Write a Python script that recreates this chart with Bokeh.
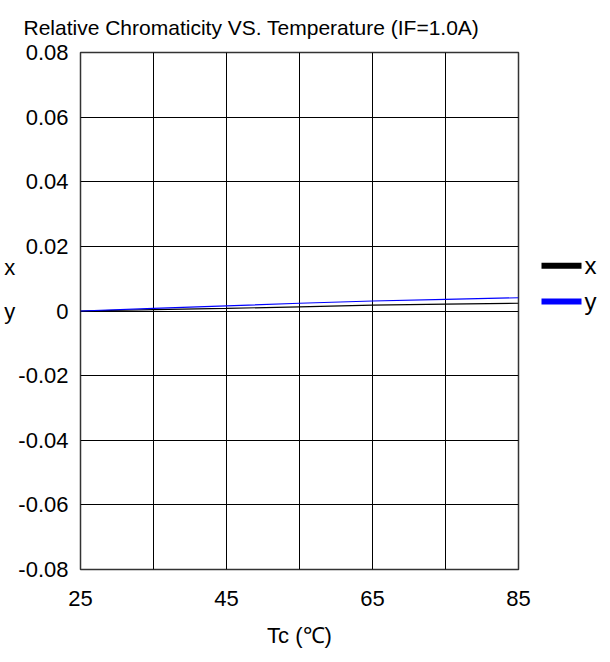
import math
from bokeh.plotting import figure
from bokeh.layouts import row
from bokeh.models import (FixedTicker, CustomJSTickFormatter, Range1d)
from bokeh.core.properties import value
from bokeh.embed import file_html
from bokeh.resources import INLINE

temps = [25, 35, 45, 55, 65, 75, 85]
dx = [0.0, 0.0004, 0.0008, 0.0013, 0.0018, 0.0021, 0.0024]
dy = [0.0, 0.0008, 0.0016, 0.0024, 0.0031, 0.0036, 0.0041]
x_tick_labels = [25, 45, 65, 85]
y_ticks = [-0.08, -0.06, -0.04, -0.02, 0, 0.02, 0.04, 0.06, 0.08]
grid_x = [25, 35, 45, 55, 65, 75, 85]
series_names = ["x", "y"]
series_colors = ["black", "#0000ff"]

FONT = "Liberation Sans"
H = 650

p = figure(width=540, height=H, output_backend="svg", toolbar_location=None,
           x_range=Range1d(25, 85), y_range=Range1d(-0.08, 0.08),
           min_border_left=80, min_border_right=22, min_border_top=52, min_border_bottom=80)
p.title.text = "Relative Chromaticity VS. Temperature (IF=1.0A)"
p.title.align = "left"
p.title.offset = -57
p.title.text_font = FONT
p.title.text_font_size = "21px"
p.title.text_font_style = "normal"
p.title.text_color = "black"
p.title.standoff = 27

p.outline_line_color = "#333333"
p.outline_line_width = 1.5

for ax in (p.xaxis[0], p.yaxis[0]):
    ax.axis_line_color = None
    ax.major_tick_line_color = None
    ax.minor_tick_line_color = None
    ax.major_label_text_font = FONT
    ax.major_label_text_font_size = "22px"
    ax.major_label_text_color = "black"

p.xaxis.ticker = FixedTicker(ticks=x_tick_labels)
p.xaxis.major_label_standoff = 15
p.xaxis.axis_label = "Tc (℃)"
p.xaxis.axis_label_text_font = FONT
p.xaxis.axis_label_text_font_size = "22px"
p.xaxis.axis_label_text_font_style = "normal"
p.xaxis.axis_label_text_color = "black"
p.xaxis.axis_label_standoff = 14

p.yaxis.ticker = FixedTicker(ticks=y_ticks)
p.yaxis.formatter = CustomJSTickFormatter(code="return Math.abs(tick) < 1e-9 ? '0' : tick.toFixed(2);")
p.yaxis.major_label_standoff = 6
p.yaxis.axis_label = series_names[0] + "\n" + series_names[1] + "\n\u00a0"
p.yaxis.axis_label_orientation = "horizontal"
p.yaxis.axis_label_text_font = FONT
p.yaxis.axis_label_text_font_size = "22px"
p.yaxis.axis_label_text_font_style = "normal"
p.yaxis.axis_label_text_color = "black"
p.yaxis.axis_label_text_line_height = 1.75
p.yaxis.axis_label_standoff = 0

p.xgrid.ticker = FixedTicker(ticks=grid_x)
p.xgrid.grid_line_color = "black"
p.xgrid.grid_line_width = 1
p.ygrid.grid_line_color = "black"
p.ygrid.grid_line_width = 1

p.line(temps, dx, line_color=series_colors[0], line_width=1.2)
p.line(temps, dy, line_color=series_colors[1], line_width=1.2)

# legend drawn in a small side figure (pixel coordinates, y downward)
lg = figure(width=60, height=H, output_backend="svg", toolbar_location=None,
            x_range=Range1d(0, 60), y_range=Range1d(H, 0),
            min_border_left=0, min_border_right=0, min_border_top=0, min_border_bottom=0)
lg.axis.visible = False
lg.grid.visible = False
lg.outline_line_color = None
leg_y = [268, 313]
lg.segment(x0=[1, 1], y0=leg_y, x1=[41, 41], y1=leg_y, line_color=series_colors, line_width=6)
lg.text(x=[44, 44], y=leg_y, text=series_names, text_font=value(FONT), text_font_size="24px",
        text_color="black", text_baseline="middle")

layout = row(p, lg)
open("out.html", "w").write(file_html(layout, INLINE))
